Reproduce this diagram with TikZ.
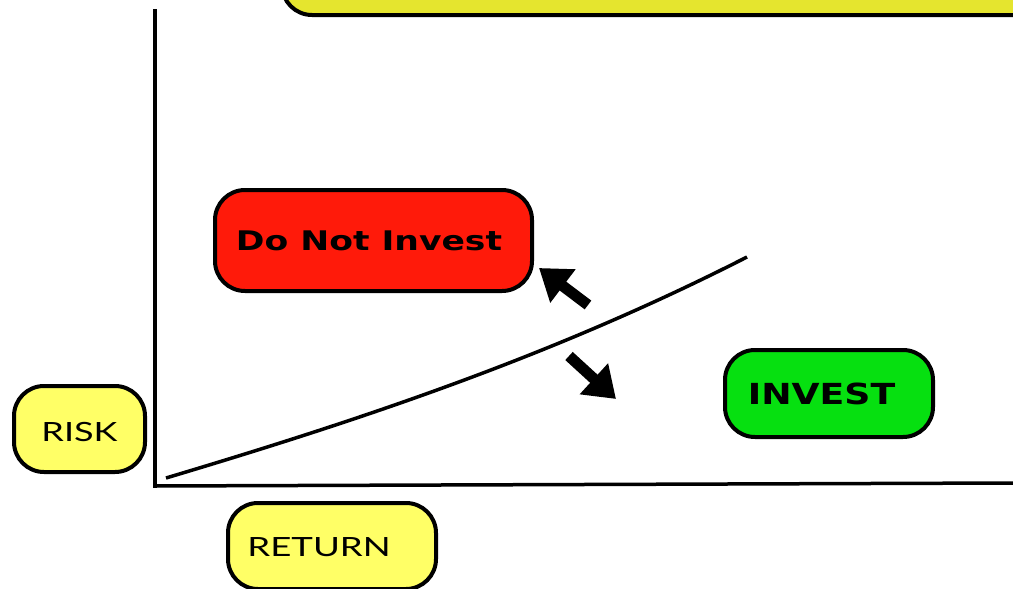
\documentclass[tikz,border=0pt]{standalone}
\usepackage{fontspec}
\setmainfont{Lato}
\newfontfamily\heavyfont{DejaVu Sans}[UprightFont=* Bold]
\usetikzlibrary{arrows.meta}
\definecolor{banner}{HTML}{E5E52E}
\definecolor{stopred}{HTML}{FF1A0A}
\definecolor{gogreen}{HTML}{06E010}
\definecolor{axislabel}{HTML}{FFFF66}
\newcommand{\widelabel}[2]{\scalebox{#1}[1]{#2}}
\tikzset{
  pill/.style={draw=black, line width=4pt, rounded corners=30pt, inner sep=0pt},
  axisline/.style={line width=3.5pt, black},
  labeltext/.style={inner sep=0pt, anchor=base, font=\fontsize{26.5}{26.5}\selectfont},
  bigarrow/.style={line width=11pt, -{Triangle[width=40pt,length=30pt]}},
}
\begin{document}
\begin{tikzpicture}[x=1pt,y=-1pt]
\useasboundingbox (0,0) rectangle (1013,589);
\clip (0,0) rectangle (1013,589);

% banner running off the top edge
\draw[pill, fill=banner] (282,-60) rectangle (1060,15);

% axes
\coordinate (ytop) at (155,9);
\coordinate (ybot) at (155,487.5);
\coordinate (xstart) at (153.5,486);
\coordinate (xend) at (1013,483);
\draw[axisline] (ytop) -- (ybot);
\draw[axisline] (xstart) -- (xend);

% risk/return frontier
\coordinate (c0) at (166,478);
\coordinate (c1) at (747,257);
\draw[line width=3.5pt] (c0) .. controls (360,420) and (553,356) .. (c1);

% regions
\node[pill, fill=stopred, minimum width=317pt, minimum height=101pt] (noinv) at (373.5,240.5) {};
\node[inner sep=0pt, anchor=base, font=\heavyfont\fontsize{27}{27}\selectfont] (noinvtext) at (369,250) {\widelabel{1.28}{Do Not Invest}};

\node[pill, fill=gogreen, minimum width=208pt, minimum height=87pt] (inv) at (829,393.5) {};
\node[inner sep=0pt, anchor=base, font=\heavyfont\fontsize{29}{29}\selectfont] (invtext) at (821.5,404) {\widelabel{1.25}{INVEST}};

% axis labels
\node[pill, fill=axislabel, minimum width=131pt, minimum height=86pt] (risk) at (79.5,429) {};
\node[labeltext] (risktext) at (79.5,441) {\widelabel{1.36}{RISK}};

\node[pill, fill=axislabel, minimum width=208pt, minimum height=86pt] (ret) at (332,546) {};
\node[labeltext] (rettext) at (319,556) {\widelabel{1.38}{RETURN}};

% direction arrows off the frontier
\coordinate (upTail) at (588,305);
\coordinate (upTip) at (539,268);
\coordinate (dnTail) at (569,356);
\coordinate (dnTip) at (616,399);
\draw[bigarrow] (upTail) -- (upTip);
\draw[bigarrow] (dnTail) -- (dnTip);
\end{tikzpicture}
\end{document}
